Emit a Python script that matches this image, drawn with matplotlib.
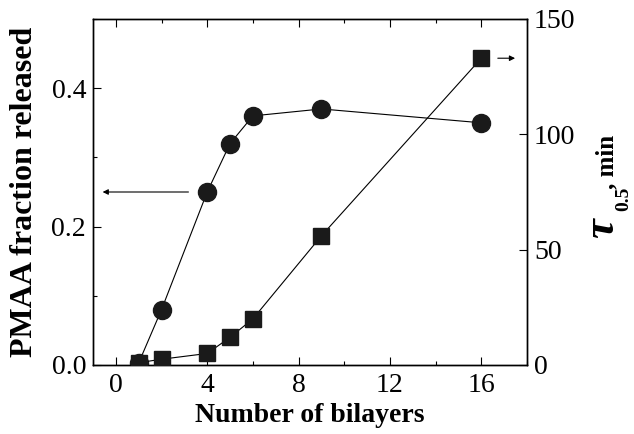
import matplotlib
matplotlib.use("Agg")
import matplotlib.pyplot as plt
from matplotlib.ticker import MultipleLocator, FormatStrFormatter

plt.rcParams['font.family'] = ['Liberation Serif', 'DejaVu Serif']

bilayers = [1, 2, 4, 5, 6, 9, 16]
fraction_released = [0.003, 0.08, 0.25, 0.32, 0.36, 0.37, 0.35]
tau_half = [1, 2.5, 5, 12, 20, 56, 133]

fig = plt.figure(figsize=(6.34, 4.34), dpi=100)
ax = fig.add_axes([93/634, 69/434, 434/634, 346/434])
ax2 = ax.twinx()

ax.plot(bilayers, fraction_released, color='black', lw=0.8, marker='o',
        markersize=13, markerfacecolor='#1a1a1a', markeredgecolor='#1a1a1a', zorder=3)
ax2.plot(bilayers, tau_half, color='black', lw=0.8, marker='s',
         markersize=12, markerfacecolor='#1a1a1a', markeredgecolor='#1a1a1a', zorder=3)

ax.set_xlim(-1, 18)
ax.set_ylim(0, 0.5)
ax2.set_ylim(0, 150)

ax.xaxis.set_major_locator(MultipleLocator(4))
ax.xaxis.set_minor_locator(MultipleLocator(2))
ax.yaxis.set_major_locator(MultipleLocator(0.2))
ax.yaxis.set_minor_locator(MultipleLocator(0.1))
ax2.yaxis.set_major_locator(MultipleLocator(50))
ax.yaxis.set_major_formatter(FormatStrFormatter('%.1f'))

ax.tick_params(axis='x', which='both', direction='in', top=True, labelsize=20, pad=6)
ax.tick_params(axis='y', which='both', direction='in', right=False, labelsize=20, pad=5)
ax.tick_params(which='major', length=6, width=0.8)
ax.tick_params(which='minor', length=3, width=0.8)
ax2.tick_params(axis='y', which='both', direction='in', labelsize=20, length=6, width=0.8, pad=5)

for a in (ax, ax2):
    for s in a.spines.values():
        s.set_linewidth(1.0)

ax.set_xlabel('Number of bilayers', fontsize=20, fontweight='bold', labelpad=3)
ax.set_ylabel('PMAA fraction released', fontsize=23, fontweight='bold', labelpad=9)

# right label: tau_0.5, min
fig.text(613/634, 1 - 238/434, 'τ', fontsize=32, fontweight='bold', style='italic',
         rotation=90, rotation_mode='anchor', ha='left', va='baseline')
fig.text(628/634, 1 - 211/434, '0.5', fontsize=14, fontweight='bold',
         rotation=90, rotation_mode='anchor', ha='left', va='baseline')
fig.text(613/634, 1 - 189/434, ', min', fontsize=18, fontweight='bold',
         rotation=90, rotation_mode='anchor', ha='left', va='baseline')

# arrows
ax.annotate('', xy=(-0.7, 0.25), xytext=(3.3, 0.25),
            arrowprops=dict(arrowstyle='-|>', color='black', lw=0.8, mutation_scale=8))
ax2.annotate('', xy=(17.6, 133), xytext=(16.6, 133),
             arrowprops=dict(arrowstyle='-|>', color='black', lw=0.8, mutation_scale=8))

fig.savefig('out.png', dpi=100)
